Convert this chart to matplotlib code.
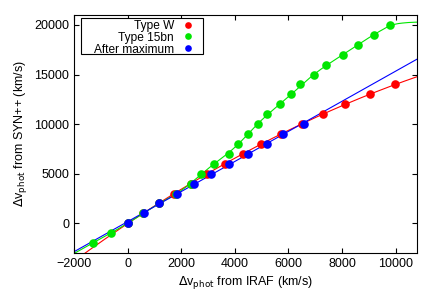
import numpy as np
import matplotlib
matplotlib.use("Agg")
import matplotlib.pyplot as plt
from matplotlib.patches import Rectangle
from matplotlib.lines import Line2D

plt.rcParams['font.family'] = ['Liberation Sans', 'DejaVu Sans']

# Type W (red)
w_x = [0, 570, 1190, 1750, 2380, 2950, 3620, 4290, 4980, 5720, 6500, 7300, 8130, 9050, 9980]
w_y = [0, 1000, 2000, 3000, 4000, 5000, 6000, 7000, 8000, 9000, 10000, 11000, 12000, 13000, 14000]
# Type 15bn (green)
g_x = [-1300, -630, 0, 560, 1190, 1810, 2370, 2740, 3240, 3770, 4130, 4490, 4860, 5220,
       5680, 6110, 6430, 6940, 7420, 8040, 8580, 9200, 9800]
g_y = [-2000, -1000, 0, 1000, 2000, 3000, 4000, 5000, 6000, 7000, 8000, 9000, 10000, 11000,
       12000, 13000, 14000, 15000, 16000, 17000, 18000, 19000, 20000]
# Type 15bn fitted curve
gfit_x = [-2000, -1300, -630, 0, 1000, 2000, 3000, 4000, 5000, 6000, 7000, 8000,
          9000, 9400, 9700, 10000, 10300, 10600, 10800]
gfit_y = [-3050, -2000, -1000, 0, 1700, 3300, 5500, 7650, 10400, 12750, 15100, 16950,
          18700, 19350, 19800, 20080, 20200, 20260, 20280]
# After maximum (blue)
b_x = [0, 600, 1190, 1850, 2460, 3120, 3770, 4490, 5210, 5810, 6590]
b_y = [0, 1000, 2000, 3000, 4000, 5000, 6000, 7000, 8000, 9000, 10000]

labels = ['Type W', 'Type 15bn', 'After maximum']

xmin, xmax = -2000, 10800
ymin, ymax = -3000, 21000

W, H = 436, 305
fig = plt.figure(figsize=(W / 100, H / 100), dpi=100)
ax = fig.add_axes([74 / W, 1 - 253 / H, 343 / W, 238 / H])

xx = np.linspace(xmin, xmax, 400)
pw = np.polyfit(w_x, w_y, 2)
pb = np.polyfit(b_x, b_y, 1)

red = '#ff0000'
green = '#00e600'
blue = '#0000ff'
colors = [red, green, blue]

# smooth the read green curve with cubic Hermite evaluation
gx = np.array(gfit_x, float)
gy = np.array(gfit_y, float)
d = np.gradient(gy, gx)
xs, ys = [], []
for i in range(len(gx) - 1):
    h = gx[i + 1] - gx[i]
    t = np.linspace(0, 1, 20)
    h00 = 2 * t**3 - 3 * t**2 + 1
    h10 = t**3 - 2 * t**2 + t
    h01 = -2 * t**3 + 3 * t**2
    h11 = t**3 - t**2
    xs.append(gx[i] + t * h)
    ys.append(h00 * gy[i] + h10 * h * d[i] + h01 * gy[i + 1] + h11 * h * d[i + 1])
xs = np.concatenate(xs)
ys = np.concatenate(ys)

ax.plot(xx, np.polyval(pw, xx), color=red, lw=0.8)
ax.plot(xs, ys, color=green, lw=0.8)
ax.plot(xx, np.polyval(pb, xx), color=blue, lw=0.8)

ms = 6.2
ax.plot(w_x, w_y, 'o', color=red, ms=ms, mec='none')
ax.plot(g_x, g_y, 'o', color=green, ms=ms, mec='none')
ax.plot(b_x, b_y, 'o', color=blue, ms=ms, mec='none')

ax.set_xlim(xmin, xmax)
ax.set_ylim(ymin, ymax)
ax.set_xticks([-2000, 0, 2000, 4000, 6000, 8000, 10000])
ax.set_yticks([0, 5000, 10000, 15000, 20000])
ax.tick_params(direction='in', top=True, right=True, labelsize=9, length=3.5, width=0.8)
for s in ax.spines.values():
    s.set_linewidth(0.8)

ax.set_xlabel(r'$\Delta$v$_{\rm phot}$ from IRAF (km/s)', fontsize=9, labelpad=3)
ax.set_ylabel(r'$\Delta$v$_{\rm phot}$ from SYN++ (km/s)', fontsize=9, labelpad=4)

# legend (text right-aligned, marker on the right, as in the original)
frame = Rectangle((81.3 / W, 1 - 54 / H), (203.3 - 81.3) / W, (54 - 18.3) / H,
                  transform=fig.transFigure, facecolor='white', edgecolor='black',
                  lw=0.8, zorder=5)
fig.patches.append(frame)
row_y = [24.5, 36.3, 48.0]
for lab, col, ry in zip(labels, colors, row_y):
    fig.text(174 / W, 1 - (ry + 1.6) / H, lab, ha='right', va='center', fontsize=8.6, zorder=6)
    fig.add_artist(Line2D([188 / W], [1 - ry / H], marker='o', color=col, ms=4.8,
                          mec='none', ls='none', transform=fig.transFigure, zorder=6))

fig.savefig('out.png', dpi=100)
